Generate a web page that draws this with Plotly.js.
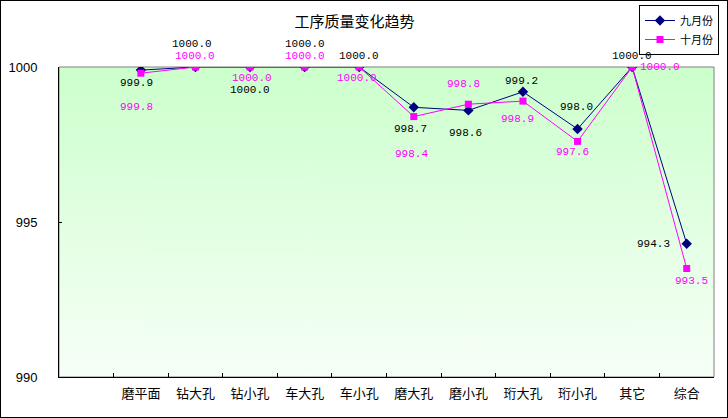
<!DOCTYPE html>
<html>
<head>
<meta charset="utf-8">
<script src="https://cdn.plot.ly/plotly-3.0.1.min.js"></script>
<style>
  body { margin: 0; background: #fff; }
  #chart { width: 726px; height: 416px; border: 1px solid #000; }
</style>
</head>
<body>
<div id="chart"></div>
<script>
// categories (first slot is left empty like the original sheet)
const categories = [" ", "磨平面", "钻大孔", "钻小孔", "车大孔", "车小孔", "磨大孔", "磨小孔", "珩大孔", "珩小孔", "其它", "综合"];
const steps = categories.slice(1);
const sep = [999.9, 1000.0, 1000.0, 1000.0, 1000.0, 998.7, 998.6, 999.2, 998.0, 1000.0, 994.3];
const oct = [999.8, 1000.0, 1000.0, 1000.0, 1000.0, 998.4, 998.8, 998.9, 997.6, 1000.0, 993.5];
const yTicks = [990, 995, 1000];

// where each value label sits relative to its point (px)
const sepShift = [[-4, -13], [-3, 23], [0, -23], [0, 23], [0, 11], [-3, -22], [-3, -23], [-1, 11], [-1, 22], [0, 11], [-33, 0]];
const octShift = [[-4, -34], [0, 11], [2, -11], [0, 11], [-2, -11], [-2, -37], [-5, 20], [-5, -18], [-5, -11], [28, 0], [5, -12]];

// green to white background for the plot area
function gradientUrl() {
    const c = document.createElement("canvas");
    c.width = 4;
    c.height = 310;
    const ctx = c.getContext("2d");
    const g = ctx.createLinearGradient(0, 0, 0, 310);
    g.addColorStop(0, "#ccffcc");
    g.addColorStop(1, "#f7fff7");
    ctx.fillStyle = g;
    ctx.fillRect(0, 0, 4, 310);
    return c.toDataURL();
}

function labels(values, shifts, color) {
    return values.map((v, i) => ({
        x: steps[i],
        y: v,
        text: v.toFixed(1),
        showarrow: false,
        xshift: shifts[i][0],
        yshift: shifts[i][1],
        font: { family: "Liberation Mono, DejaVu Sans Mono, monospace", size: 11, color: color }
    }));
}

const traces = [
    {
        x: steps, y: sep, name: "九月份",
        type: "scatter", mode: "lines+markers",
        line: { color: "#000080", width: 1 },
        marker: { symbol: "diamond", size: 8, color: "#000080" }
    },
    {
        x: steps, y: oct, name: "十月份",
        type: "scatter", mode: "lines+markers",
        line: { color: "#ff00ff", width: 1 },
        marker: { symbol: "square", size: 7, color: "#ff00ff" }
    }
];

const layout = {
    width: 726,
    height: 416,
    margin: { l: 58, r: 13, t: 66, b: 40, autoexpand: false },
    paper_bgcolor: "#ffffff",
    plot_bgcolor: "rgba(0,0,0,0)",
    font: { family: "Noto Sans CJK SC, sans-serif", color: "#000" },
    title: {
        text: "工序质量变化趋势",
        font: { family: "Noto Sans CJK SC, sans-serif", size: 15, color: "#000" },
        x: 0.487, xanchor: "center",
        y: 1 - 21 / 416, yanchor: "middle"
    },
    xaxis: {
        type: "category",
        categoryarray: categories,
        categoryorder: "array",
        range: [-0.5, 11.5],
        tickson: "boundaries",
        ticks: "inside",
        ticklen: 4,
        tickcolor: "#000",
        showgrid: false,
        showline: true,
        linecolor: "#000",
        linewidth: 1,
        tickfont: { family: "Noto Sans CJK SC, sans-serif", size: 13, color: "#000" },
        ticklabelstandoff: 4,
        fixedrange: true
    },
    yaxis: {
        range: [990, 1000],
        tickvals: yTicks,
        ticktext: yTicks.map(String),
        ticks: "inside",
        ticklen: 3,
        tickcolor: "#000",
        showgrid: false,
        zeroline: false,
        showline: true,
        linecolor: "#000",
        linewidth: 1,
        tickfont: { family: "Liberation Sans, Arial, sans-serif", size: 13, color: "#000" },
        ticklabelstandoff: 18,
        fixedrange: true
    },
    legend: {
        x: 1.0076, xanchor: "right",
        y: 1.2, yanchor: "top",
        bgcolor: "#ffffff",
        bordercolor: "#000",
        borderwidth: 1,
        itemwidth: 30,
        tracegroupgap: 0,
        font: { family: "Noto Sans CJK SC, sans-serif", size: 11, color: "#000" }
    },
    images: [{
        source: gradientUrl(),
        xref: "paper", yref: "paper",
        x: 0, y: 1, sizex: 1, sizey: 1,
        sizing: "stretch", layer: "below", xanchor: "left", yanchor: "top"
    }],
    shapes: [{
        type: "rect", xref: "paper", yref: "paper",
        x0: 0, x1: 1, y0: 0, y1: 1,
        line: { color: "#808080", width: 1 },
        layer: "below"
    }],
    annotations: labels(sep, sepShift, "#000000").concat(labels(oct, octShift, "#ff00ff")),
    showlegend: true
};

Plotly.newPlot("chart", traces, layout, { displayModeBar: false, staticPlot: true });
</script>
</body>
</html>
